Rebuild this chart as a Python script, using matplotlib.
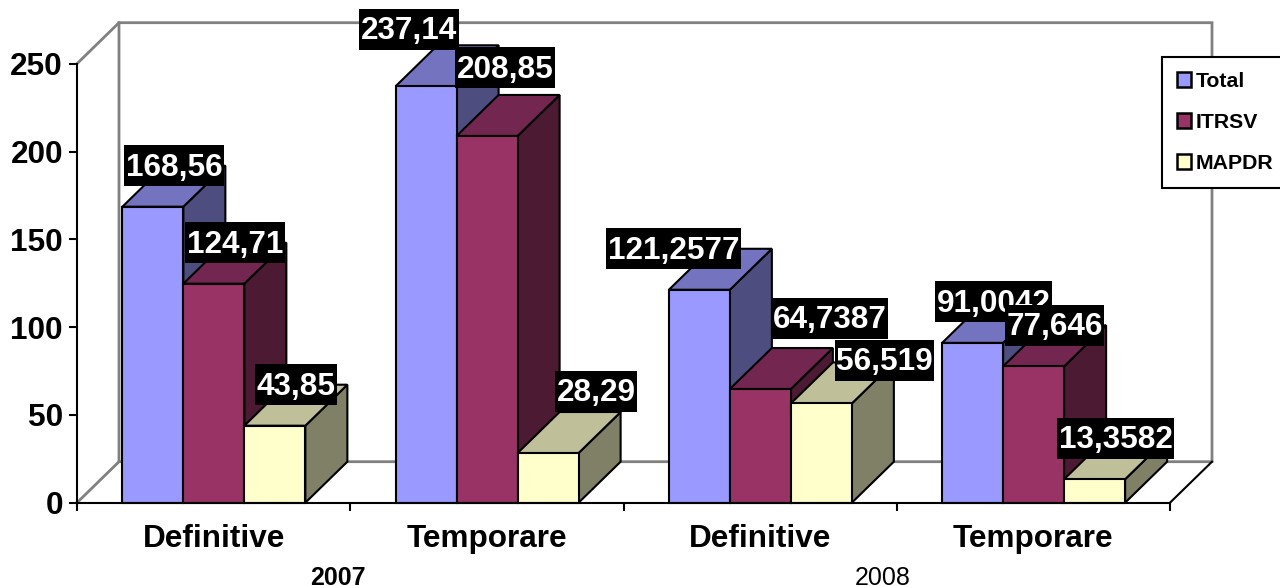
import matplotlib
matplotlib.use("Agg")
import matplotlib.axes
import matplotlib.pyplot as plt
from matplotlib.patches import Patch, Polygon
from matplotlib.path import Path

CATEGORIES = ["Definitive", "Temporare", "Definitive", "Temporare"]
YEARS = ["2007", "2008"]
YEAR_X = [0.955, 2.95]
YEAR_WEIGHTS = ["bold", "normal"]

SERIES_NAMES = ["Total", "ITRSV", "MAPDR"]
TOTAL = [168.56, 237.14, 121.2577, 91.0042]
ITRSV = [124.71, 208.85, 64.7387, 77.646]
MAPDR = [43.85, 28.29, 56.519, 13.3582]
TOTAL_LABELS = ["168,56", "237,14", "121,2577", "91,0042"]
ITRSV_LABELS = ["124,71", "208,85", "64,7387", "77,646"]
MAPDR_LABELS = ["43,85", "28,29", "56,519", "13,3582"]

COLORS = ["#9999FF", "#993366", "#FFFFCC"]
TOP_COLORS = ["#7373BF", "#732650", "#BFBF99"]
SIDE_COLORS = ["#4D4D80", "#4D1A33", "#808066"]

# pixel nudges for the labels that do not sit at the default place
TOTAL_NUDGE = [(0, 0), (-38, 16), (-47, 0), (0, 0)]
ITRSV_NUDGE = [(0, 0), (-3, 27), (48, 30), (0, 0)]
MAPDR_NUDGE = [(0, 0), (27, 21), (42, 2), (0, 0)]

FONT = "Liberation Sans"
PX_PER_CATEGORY = 273.25
PX_PER_UNIT = 1.756
DEPTH_X = 42 / PX_PER_CATEGORY
DEPTH_Y = 41 / PX_PER_UNIT
BAR_WIDTH = 61 / PX_PER_CATEGORY
BAR_START = 0.166
EDGE = 1.5
WALL_GRAY = "#808080"
TEXT_DROP = 2  # label text sits a bit lower than the middle of its box


def label_box(x0, y0, width, height, mutation_size):
    # the black boxes are taller than matplotlib's padding would make them
    left = x0 - 1.5
    right = x0 + width + 1.5
    middle = y0 + height / 2 + TEXT_DROP
    bottom = middle - 20.5
    top = middle + 20.5
    return Path([(left, bottom), (right, bottom), (right, top), (left, top), (left, bottom)], closed=True)


def draw_walls(ax: matplotlib.axes.Axes) -> None:
    top = 250 + DEPTH_Y
    right = 4 + DEPTH_X
    wall = dict(color=WALL_GRAY, lw=2.0, clip_on=False, zorder=0.5, solid_joinstyle="miter")
    ax.plot([0, DEPTH_X, DEPTH_X], [0, DEPTH_Y, top], **wall)
    ax.plot([0, DEPTH_X, right, right, DEPTH_X], [250, top, top, DEPTH_Y, DEPTH_Y], **wall)
    ax.plot([4, right], [0, DEPTH_Y], color="black", lw=EDGE, clip_on=False, zorder=0.6)


def draw_bar(ax: matplotlib.axes.Axes, left: float, value: float, series: int) -> None:
    right = left + BAR_WIDTH
    faces = [
        ([(right, 0), (right + DEPTH_X, DEPTH_Y), (right + DEPTH_X, value + DEPTH_Y), (right, value)], SIDE_COLORS),
        ([(left, value), (left + DEPTH_X, value + DEPTH_Y), (right + DEPTH_X, value + DEPTH_Y), (right, value)], TOP_COLORS),
        ([(left, 0), (left, value), (right, value), (right, 0)], COLORS),
    ]
    for corners, palette in faces:
        ax.add_patch(Polygon(corners, closed=True, facecolor=palette[series], edgecolor="black",
                             lw=EDGE, joinstyle="miter", clip_on=False, zorder=1))


def draw_label(ax, left, value, text, nudge) -> None:
    ax.annotate(
        text,
        xy=(left + BAR_WIDTH / 2 + DEPTH_X / 2, value + DEPTH_Y),
        xytext=(nudge[0], nudge[1] - TEXT_DROP),
        textcoords="offset pixels",
        ha="center",
        va="center",
        color="white",
        fontsize=22.7,
        fontweight="bold",
        family=FONT,
        bbox=dict(boxstyle=label_box, facecolor="black", edgecolor="none"),
        annotation_clip=False,
        zorder=4,
    )


def main() -> None:
    fig = plt.figure(figsize=(12.8, 5.86), dpi=100)
    ax = fig.add_axes([77 / 1280, (586 - 502.7) / 586, (1170 - 77) / 1280, 439 / 586])
    ax.set_xlim(0, 4)
    ax.set_ylim(0, 250)
    ax.patch.set_visible(False)

    draw_walls(ax)

    values = [TOTAL, ITRSV, MAPDR]
    labels = [TOTAL_LABELS, ITRSV_LABELS, MAPDR_LABELS]
    nudges = [TOTAL_NUDGE, ITRSV_NUDGE, MAPDR_NUDGE]
    for group in range(len(CATEGORIES)):
        for series in range(len(SERIES_NAMES)):
            left = group + BAR_START + series * BAR_WIDTH
            draw_bar(ax, left, values[series][group], series)
            draw_label(ax, left, values[series][group], labels[series][group], nudges[series][group])

    for side in ("top", "right"):
        ax.spines[side].set_visible(False)
    for side in ("left", "bottom"):
        ax.spines[side].set_linewidth(EDGE)
        ax.spines[side].set_zorder(2)

    ax.set_yticks(range(0, 251, 50))
    ax.set_xticks(range(5))
    ax.set_xticklabels([])
    ax.set_xticks([i + 0.5 for i in range(4)], CATEGORIES, minor=True)
    ax.tick_params(axis="y", length=5.8, width=EDGE, pad=4.3, labelsize=22.7)
    ax.tick_params(axis="x", which="major", length=5.8, width=EDGE)
    ax.tick_params(axis="x", which="minor", length=0, pad=15, labelsize=22.7)
    for tick in ax.get_yticklabels() + ax.get_xticklabels(minor=True):
        tick.set_family(FONT)
        tick.set_fontweight("bold")

    for x, year, weight in zip(YEAR_X, YEARS, YEAR_WEIGHTS):
        ax.text(x, -47.0, year, ha="center", va="baseline", fontsize=18, family=FONT,
                fontweight=weight, clip_on=False)

    handles = [Patch(facecolor=c, edgecolor="black", lw=EDGE + 0.3) for c in COLORS]
    legend = ax.legend(
        handles,
        SERIES_NAMES,
        loc="upper left",
        bbox_to_anchor=(1162 / 1280, (586 - 57) / 586),
        bbox_transform=fig.transFigure,
        borderaxespad=0,
        borderpad=0.7,
        handlelength=0.68,
        handleheight=0.68,
        handletextpad=0.22,
        labelspacing=1.03,
        fancybox=False,
        framealpha=1,
        edgecolor="black",
        prop=dict(family=FONT, weight="bold", size=15.3),
    )
    legend.get_frame().set_linewidth(EDGE)
    legend.set_zorder(6)

    fig.savefig("out.png", dpi=100)


if __name__ == "__main__":
    main()
